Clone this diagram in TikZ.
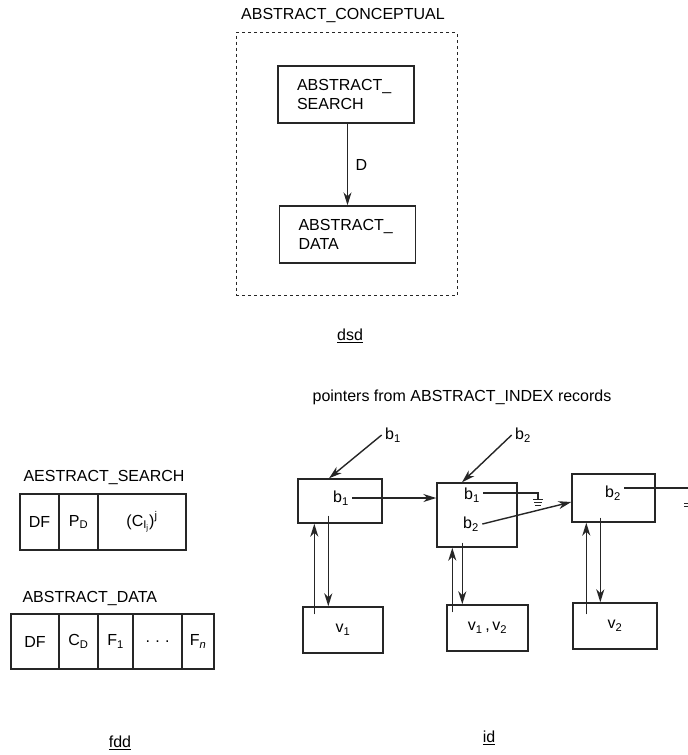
\documentclass[tikz,border=0pt]{standalone}
\usepackage{fontspec}
\setmainfont{Liberation Sans}
\usetikzlibrary{arrows.meta, positioning, calc}

\begin{document}
\begin{tikzpicture}[
    x=1pt, y=-1pt,
    font=\fontsize{16}{19}\selectfont,
    box/.style={draw=black!85, line width=1.4pt, minimum width=82pt, minimum height=46pt, inner sep=0pt},
    cell/.style={draw=black!85, line width=1.4pt, minimum height=56pt, inner sep=0pt, outer sep=0pt},
    entity/.style={draw=black!85, line width=1.4pt, minimum width=136pt, minimum height=57pt, text width=98pt, align=left, inner sep=0pt},
    ptr/.style={->, >={Stealth[length=13pt, width=8pt, inset=4pt]}, line width=1.4pt, draw=black!85},
    wire/.style={line width=1.4pt, draw=black!85},
    gnd/.style={line width=0.9pt, draw=black!85}
]
    \useasboundingbox (0,0) rectangle (688,755);

    % Data structure diagram
    \node (dsdtitle) at (343,16) {ABSTRACT\_CONCEPTUAL};
    \node[draw=black!85, dashed, line width=0.9pt, minimum width=221pt, minimum height=263pt] (concept) at (346.5,164) {};
    \node[entity] (search) at (346,94.5) {ABSTRACT\_\\SEARCH};
    \node[entity] (data) at (347.5,234.5) {ABSTRACT\_\\DATA};
    \draw[ptr] (search.south -| data.north) -- (data.north) node[midway, right=4pt] {D};
    \node (dsd) at (350,336) {\underline{dsd}};

    % Record formats
    \node[anchor=west] (searchname) at (20,477) {AESTRACT\_SEARCH};
    \node[cell, minimum width=39pt, anchor=north west] (sdf) at (20,494) {DF};
    \node[cell, minimum width=39pt, right=0pt of sdf] (spd) {P\textsubscript{D}};
    \node[cell, minimum width=88pt, right=0pt of spd] (sci) {(C\textsubscript{I\textsubscript{j}})\textsuperscript{j}};

    \node[anchor=west] (dataname) at (19,598) {ABSTRACT\_DATA};
    \node[cell, minimum width=48pt, minimum height=55pt, anchor=north west] (ddf) at (11,614) {DF};
    \node[cell, minimum width=39pt, minimum height=55pt, right=0pt of ddf] (dcd) {C\textsubscript{D}};
    \node[cell, minimum width=35pt, minimum height=55pt, right=0pt of dcd] (df1) {F\textsubscript{1}};
    \node[cell, minimum width=49pt, minimum height=55pt, right=0pt of df1] (ddots) {.\,\,.\,\,.};
    \node[cell, minimum width=32pt, minimum height=55pt, right=0pt of ddots] (dfn) {F\textsubscript{\textit{n}}};
    \node (fdd) at (120,743) {\underline{fdd}};

    % Index structure
    \node (idtitle) at (462,397) {pointers from ABSTRACT\_INDEX records};
    \node[box, minimum width=84pt, minimum height=44pt] (blk1) at (340,501) {};
    \node[box, minimum width=80pt, minimum height=64pt] (blk2) at (477,515) {};
    \node[box, minimum width=83pt, minimum height=48pt] (blk3) at (613.5,498) {};
    \node (t11) at (341,498) {b\textsubscript{1}};
    \node (t21) at (472,495) {b\textsubscript{1}};
    \node (t22) at (471,524) {b\textsubscript{2}};
    \node (t31) at (613,493) {b\textsubscript{2}};

    \node[box, minimum width=80pt] (val1) at (343,630) {v\textsubscript{1}};
    \node[box, minimum width=81pt] (val12) at (487.5,628) {v\textsubscript{1}\,,\,v\textsubscript{2}};
    \node[box, minimum width=84pt] (val2) at (615,626) {v\textsubscript{2}};

    \node (in1) at (393,435) {b\textsubscript{1}};
    \node (in2) at (523,435) {b\textsubscript{2}};
    \draw[ptr] (in1.west) -- ($(blk1.north)+(-11,0)$);
    \draw[ptr] (in2.west) -- ($(blk2.north)+(-15,0)$);

    % Chain pointers
    \draw[ptr] (t11.east) -- (t11.east -| blk2.west);
    \coordinate (gnd1) at (538,493);
    \draw[wire] (t21.east |- gnd1) -- (gnd1) -- ++(0,6);
    \draw[gnd] (gnd1) ++(-5,6) -- ++(10,0) ++(-9,3) -- ++(8,0) ++(-7,3) -- ++(6,0);
    \draw[ptr] (t22.east) -- ($(blk3.west)+(0,4)$);
    \coordinate (gnd2) at (688,488);
    \draw[wire] (t31.east |- gnd2) -- (gnd2);
    \draw[gnd] (684,503) -- ++(6,0) (684,506) -- ++(6,0);

    % Value pointers
    \draw[ptr] ($(val1.north west)+(12,8)$) -- ($(blk1.south west)+(17,0)$);
    \draw[ptr] ($(blk1.south west)+(31,-8)$) -- ($(val1.north west)+(26,0)$);
    \draw[ptr] ($(val12.north west)+(6,8)$) -- ($(blk2.south west)+(16,0)$);
    \draw[ptr] ($(blk2.south west)+(26,-5)$) -- ($(val12.north west)+(16,0)$);
    \draw[ptr] ($(val2.north west)+(14,12)$) -- ($(blk3.south west)+(15,0)$);
    \draw[ptr] ($(blk3.south west)+(29,-5)$) -- ($(val2.north west)+(28,0)$);
    \node (iddiag) at (489,738) {\underline{id}};
\end{tikzpicture}
\end{document}
